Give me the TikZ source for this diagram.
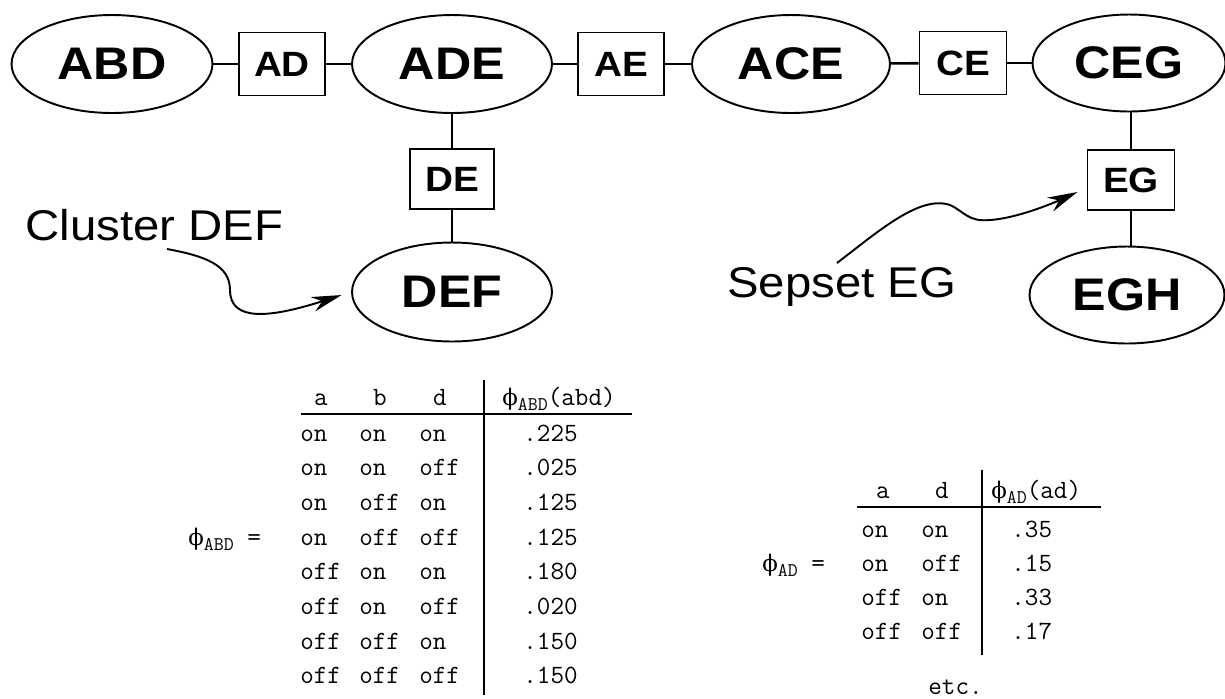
\documentclass[tikz,border=0pt]{standalone}
\usepackage{fontspec}
\setmainfont{Liberation Sans}[FakeStretch=1.1]
\newfontfamily\phifont{DejaVu Serif}
\usetikzlibrary{shapes.geometric,arrows.meta,positioning}
\tikzstyle{cluster} = [draw,ellipse,line width=1.1pt,inner sep=0,minimum width=4cm,minimum height=1.96cm,font=\bfseries\fontsize{26}{26}\selectfont]
\tikzstyle{sepset} = [draw,rectangle,line width=1.1pt,inner sep=0,minimum width=1.72cm,minimum height=1.26cm,font=\bfseries\fontsize{20}{20}\selectfont]
\tikzstyle{link} = [-,line width=1.5pt]
\tikzstyle{note} = [inner sep=0,anchor=base west,font=\fontsize{24.5}{24.5}\selectfont]
\tikzstyle{pointer} = [-{Stealth[length=0.6cm,width=0.3cm]},line width=1.1pt,shorten >=0.2cm]
\tikzstyle{cell} = [inner sep=0,anchor=base west,font=\ttfamily\fontsize{15}{15}\selectfont]
\tikzstyle{head} = [cell,anchor=base]
\tikzstyle{rule} = [line width=1.6pt]
\def \rowh {34.7}
\newcommand{\lowsub}[1]{\raisebox{-0.45ex}{\fontsize{11}{11}\selectfont #1}}
\newcommand{\potential}{{\phifont\fontsize{13}{13}\selectfont ϕ}}

\begin{document}
\begin{tikzpicture}[x=0.02cm,y=-0.02cm]
  \useasboundingbox (0,0) rectangle (1225,698);
  % junction tree: clusters and sepsets
  \node[cluster,minimum width=4.02cm] (ABD) at (112,64) {ABD};
  \node[sepset] (AD) at (282,64) {AD};
  \node[cluster] (ADE) at (452,64) {ADE};
  \node[sepset] (AE) at (621,64) {AE};
  \node[cluster,minimum width=3.96cm] (ACE) at (791,64) {ACE};
  \node[sepset,minimum width=1.74cm] (CE) at (963,63) {CE};
  \node[cluster,minimum width=3.86cm,minimum height=1.94cm] (CEG) at (1129,63) {CEG};
  \node[sepset,minimum width=1.68cm,minimum height=1.2cm] (DE) at (452,179) {DE};
  \node[cluster,minimum height=1.98cm] (DEF) at (452,292) {DEF};
  \node[sepset,minimum width=1.74cm,minimum height=1.2cm] (EG) at (1131,180) {EG};
  \node[cluster,minimum width=3.9cm,minimum height=1.94cm] (EGH) at (1127,295) {EGH};
  \draw[link] (ABD) -- (AD);
  \draw[link] (AD) -- (ADE);
  \draw[link] (ADE) -- (AE);
  \draw[link] (AE) -- (ACE);
  \draw[link] (ACE) -- (CE);
  \draw[link] (CE) -- (CEG);
  \draw[link] (ADE) -- (DE);
  \draw[link] (DE) -- (DEF);
  \draw[link] (CEG.south -| EG) -- (EG);
  \draw[link] (EG) -- (EGH.north -| EG);
  % callouts
  \node[note] (clusterlbl) at (25,240) {Cluster DEF};
  \node[note] (sepsetlbl) at (727,297) {Sepset EG};
  \coordinate (ctail) at (167,249);
  \coordinate (stail) at (837,263);
  \draw[pointer] (ctail) .. controls (205,256) and (230,265) .. (230,290)
    .. controls (230,322) and (270,318) .. (DEF.west);
  \draw[pointer] (stail) .. controls (880,230) and (920,195) .. (950,205)
    .. controls (965,212) and (968,222) .. (990,220)
    .. controls (1020,218) and (1060,200) .. (EG.190);
  % table for the ABD cluster
  \node[cell] (abdname) at (188,545) {\potential\lowsub{ABD} =};
  \node[head] (abdha) at (321,405) {a};
  \node[head] (abdhb) at (380,405) {b};
  \node[head] (abdhd) at (440,405) {d};
  \node[cell] (abdhp) at (502,405) {\potential\lowsub{ABD}(abd)};
  \draw[rule] (301,414) -- (632,414);
  \draw[rule] (484,380) -- (484,695);
  \foreach \va/\vb/\vd/\vp [count=\i] in {on/on/on/.225,on/on/off/.025,on/off/on/.125,on/off/off/.125,off/on/on/.180,off/on/off/.020,off/off/on/.150,off/off/off/.150} {
    \node[cell] (abd-\i-a) at (300,{441+\rowh*(\i-1)}) {\va};
    \node[cell] (abd-\i-b) at (359,{441+\rowh*(\i-1)}) {\vb};
    \node[cell] (abd-\i-d) at (419,{441+\rowh*(\i-1)}) {\vd};
    \node[cell] (abd-\i-p) at (523,{441+\rowh*(\i-1)}) {\vp};
  }
  % table for the AD sepset
  \node[cell] (adname) at (762,571) {\potential\lowsub{AD} =};
  \node[head] (adha) at (883,498) {a};
  \node[head] (adhd) at (942,498) {d};
  \node[cell] (adhp) at (991,498) {\potential\lowsub{AD}(ad)};
  \draw[rule] (857,507) -- (1101,507);
  \draw[rule] (982,470) -- (982,655);
  \foreach \va/\vd/\vp [count=\i] in {on/on/.35,on/off/.15,off/on/.33,off/off/.17} {
    \node[cell] (ad-\i-a) at (861,{537+34*(\i-1)}) {\va};
    \node[cell] (ad-\i-d) at (921,{537+34*(\i-1)}) {\vd};
    \node[cell] (ad-\i-p) at (1011,{537+34*(\i-1)}) {\vp};
  }
  \node[cell] (etc) at (928,694) {etc.};
\end{tikzpicture}
\end{document}
